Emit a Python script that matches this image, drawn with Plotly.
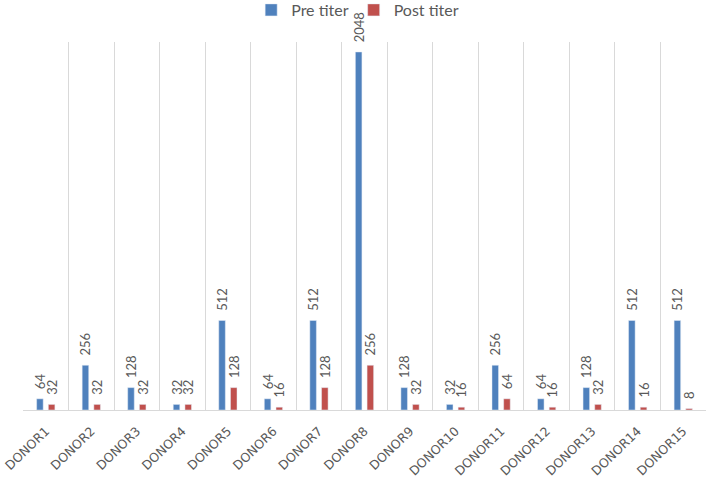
import plotly.graph_objects as go

donors = [f"DONOR{i}" for i in range(1, 16)]
pre_titer = [64, 256, 128, 32, 512, 64, 512, 2048, 128, 32, 256, 64, 128, 512, 512]
post_titer = [32, 32, 32, 32, 128, 16, 128, 256, 32, 16, 64, 16, 32, 16, 8]

font_family = "Lato, Liberation Sans, sans-serif"
label_color = "#595959"

fig = go.Figure()
for name, vals, color in [("Pre titer", pre_titer, "#4F81BD"),
                          ("Post titer", post_titer, "#C0504D")]:
    fig.add_trace(go.Bar(
        name=name, x=donors, y=vals, marker_color=color,
        text=[f"\u00a0\u00a0{v}" for v in vals],
        textposition="outside", textangle=-90, constraintext="none",
        textfont=dict(family=font_family, size=13, color=label_color),
        cliponaxis=False,
    ))

fig.update_layout(
    width=709, height=478,
    margin=dict(l=23, r=3, t=42, b=68, autoexpand=False),
    paper_bgcolor="white", plot_bgcolor="white",
    barmode="group", bargap=0.486, bargroupgap=0.44,
    font=dict(family=font_family, color=label_color),
    legend=dict(orientation="h", x=0.49, xanchor="center", y=1.087, yanchor="middle",
                bgcolor="rgba(0,0,0,0)",
                font=dict(size=16, color=label_color),
                itemwidth=30, traceorder="normal"),
    xaxis=dict(tickson="boundaries", showgrid=True, gridcolor="#D9D9D9", gridwidth=1,
               showline=True, linecolor="#D9D9D9", ticks="", tickangle=-44,
               ticklabelstandoff=8,
               tickfont=dict(family="DejaVu Sans", size=12.5, color=label_color)),
    yaxis=dict(range=[0, 2105], showgrid=False, zeroline=False,
               showticklabels=False, showline=False),
)

fig.write_html("out.html", config={"displayModeBar": False},
               post_script="document.body.style.margin='0';")
